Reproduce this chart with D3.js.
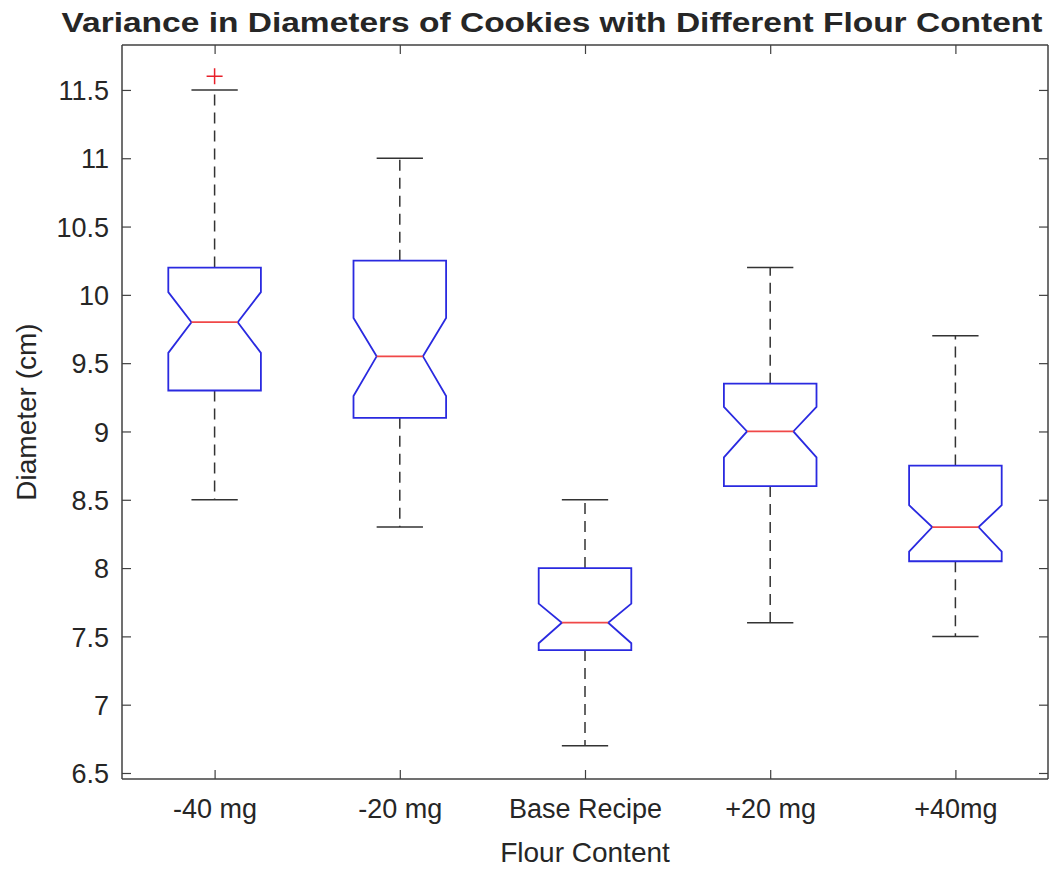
<!DOCTYPE html>
<html>
<head>
<meta charset="utf-8">
<script src="https://cdn.jsdelivr.net/npm/d3@7"></script>
<style>
  body { margin: 0; background: #fff; }
  text { font-family: "Liberation Sans", Arial, Helvetica, sans-serif; fill: #262626; }
</style>
</head>
<body>
<div id="chart"></div>
<script>
// box plot values
const categories = ["-40 mg", "-20 mg", "Base Recipe", "+20 mg", "+40mg"];
const q1 = [9.3, 9.1, 7.4, 8.6, 8.05];
const medians = [9.8, 9.55, 7.6, 9.0, 8.3];
const q3 = [10.2, 10.25, 8.0, 9.35, 8.75];
const whiskerLow = [8.5, 8.3, 6.7, 7.6, 7.5];
const whiskerHigh = [11.5, 11.0, 8.5, 10.2, 9.7];
const notchLow = [9.575, 9.26, 7.45, 8.81, 8.12];
const notchHigh = [10.02, 9.83, 7.74, 9.18, 8.46];
const outliers = [{group: 0, value: 11.6}];
const yTicks = [6.5, 7, 7.5, 8, 8.5, 9, 9.5, 10, 10.5, 11, 11.5];

let width = 1053, height = 869;
let plot = {left: 122, right: 1048, top: 45, bottom: 779};

let svg = d3.select("#chart").append("svg")
    .attr("width", width)
    .attr("height", height);

svg.append("rect").attr("width", width).attr("height", height).attr("fill", "#fff");

let x = d3.scaleLinear().domain([0.5, categories.length + 0.5]).range([plot.left, plot.right]);
let y = d3.scaleLinear().domain([6.456, 11.829]).range([plot.bottom, plot.top]);

let boxes = categories.map((c, i) => ({
    name: c, pos: i + 1,
    q1: q1[i], med: medians[i], q3: q3[i],
    lo: whiskerLow[i], hi: whiskerHigh[i],
    nlo: notchLow[i], nhi: notchHigh[i]
}));

let axisColor = "#404040";

// axes, matlab style with box on and ticks inside
let yAxis = d3.axisLeft(y).tickValues(yTicks).tickSize(-9).tickPadding(13).tickFormat(d3.format("~g"));
let yAxisR = d3.axisRight(y).tickValues(yTicks).tickSize(-9).tickFormat("");
let xAxis = d3.axisBottom(x).tickValues(boxes.map(d => d.pos)).tickSize(-9).tickPadding(20)
    .tickFormat((d, i) => categories[i]);
let xAxisT = d3.axisTop(x).tickValues(boxes.map(d => d.pos)).tickSize(-9).tickFormat("");

function styleAxis(g) {
    g.select(".domain").attr("stroke", axisColor).attr("stroke-width", 1.5);
    g.selectAll(".tick line").attr("stroke", axisColor).attr("stroke-width", 1.2);
    g.selectAll("text").attr("fill", "#262626").style("font-size", "27px");
}

svg.append("g").attr("transform", `translate(${plot.left},0)`).call(yAxis)
    .call(g => g.select(".domain").attr("d", `M0,${plot.top}V${plot.bottom}`))
    .call(styleAxis)
    .selectAll("text").attr("dy", "0.36em");
svg.append("g").attr("transform", `translate(${plot.right},0)`).call(yAxisR)
    .call(g => g.select(".domain").attr("d", `M0,${plot.top}V${plot.bottom}`))
    .call(styleAxis);
svg.append("g").attr("transform", `translate(0,${plot.bottom})`).call(xAxis)
    .call(g => g.select(".domain").attr("d", `M${plot.left},0H${plot.right}`))
    .call(styleAxis);
svg.append("g").attr("transform", `translate(0,${plot.top})`).call(xAxisT)
    .call(g => g.select(".domain").attr("d", `M${plot.left},0H${plot.right}`))
    .call(styleAxis);

// boxes
let halfBox = 0.25, halfNotch = 0.125, halfCap = 0.125;

let g = svg.append("g").attr("class", "boxes");

let grp = g.selectAll(".box").data(boxes).enter().append("g").attr("class", "box");

// whiskers
grp.append("line")
    .attr("x1", d => x(d.pos)).attr("x2", d => x(d.pos))
    .attr("y1", d => y(d.q3)).attr("y2", d => y(d.hi))
    .attr("stroke", "#333").attr("stroke-width", 1.5).attr("stroke-dasharray", "11,7");
grp.append("line")
    .attr("x1", d => x(d.pos)).attr("x2", d => x(d.pos))
    .attr("y1", d => y(d.q1)).attr("y2", d => y(d.lo))
    .attr("stroke", "#333").attr("stroke-width", 1.5).attr("stroke-dasharray", "11,7");

// caps
grp.append("line")
    .attr("x1", d => x(d.pos - halfCap)).attr("x2", d => x(d.pos + halfCap))
    .attr("y1", d => y(d.hi)).attr("y2", d => y(d.hi))
    .attr("stroke", "#333").attr("stroke-width", 1.5);
grp.append("line")
    .attr("x1", d => x(d.pos - halfCap)).attr("x2", d => x(d.pos + halfCap))
    .attr("y1", d => y(d.lo)).attr("y2", d => y(d.lo))
    .attr("stroke", "#333").attr("stroke-width", 1.5);

// notched box outline
let line = d3.line();
grp.append("path")
    .attr("d", d => line([
        [x(d.pos - halfBox), y(d.q3)],
        [x(d.pos + halfBox), y(d.q3)],
        [x(d.pos + halfBox), y(d.nhi)],
        [x(d.pos + halfNotch), y(d.med)],
        [x(d.pos + halfBox), y(d.nlo)],
        [x(d.pos + halfBox), y(d.q1)],
        [x(d.pos - halfBox), y(d.q1)],
        [x(d.pos - halfBox), y(d.nlo)],
        [x(d.pos - halfNotch), y(d.med)],
        [x(d.pos - halfBox), y(d.nhi)]
    ]) + "Z")
    .attr("fill", "none").attr("stroke", "#2a2ae0").attr("stroke-width", 1.8);

// median
grp.append("line")
    .attr("x1", d => x(d.pos - halfNotch)).attr("x2", d => x(d.pos + halfNotch))
    .attr("y1", d => y(d.med)).attr("y2", d => y(d.med))
    .attr("stroke", "#f04848").attr("stroke-width", 1.8);

// outliers
g.selectAll(".outlier").data(outliers).enter().append("path")
    .attr("class", "outlier")
    .attr("transform", d => `translate(${x(d.group + 1)},${y(d.value)})`)
    .attr("d", "M-8,0H8M0,-8V8")
    .attr("stroke", "#e8202a").attr("stroke-width", 1.5);

// title and labels
svg.append("text")
    .attr("x", 552).attr("y", 32)
    .attr("text-anchor", "middle")
    .attr("textLength", 981).attr("lengthAdjust", "spacingAndGlyphs")
    .style("font-size", "28px").style("font-weight", "bold")
    .attr("fill", "#000")
    .text("Variance in Diameters of Cookies with Different Flour Content");

svg.append("text")
    .attr("x", (plot.left + plot.right) / 2).attr("y", 862)
    .attr("text-anchor", "middle")
    .style("font-size", "28px")
    .text("Flour Content");

svg.append("text")
    .attr("transform", `translate(36,${(plot.top + plot.bottom) / 2}) rotate(-90)`)
    .attr("text-anchor", "middle")
    .style("font-size", "28px")
    .text("Diameter (cm)");
</script>
</body>
</html>
